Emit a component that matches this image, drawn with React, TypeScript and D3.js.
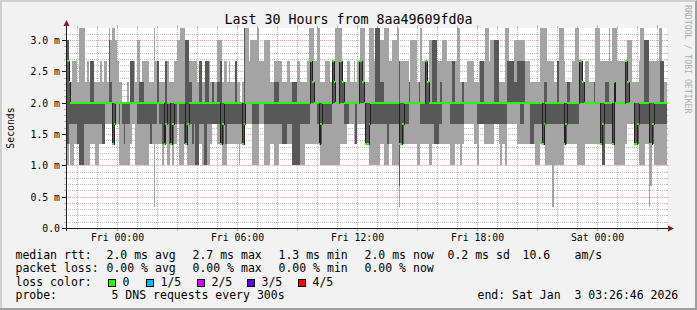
import React from "react";
import * as d3 from "d3";

const WIDTH = 697;
const HEIGHT = 310;

const TITLE = "Last 30 Hours from 8aa49609fd0a";
const Y_AXIS_TITLE = "Seconds";
const SIDE_TEXT = "RRDTOOL / TOBI OETIKER";

const END_TIME = Date.UTC(2026, 0, 3, 3, 26, 46);
const SPAN_HOURS = 30;
const STEP_SECONDS = 300;
const Y_MAX_MS = 3.1915;
const Y_TICKS = [0, 0.5, 1, 1.5, 2, 2.5, 3];
const Y_TICK_LABELS = ["0.0", "0.5 m", "1.0 m", "1.5 m", "2.0 m", "2.5 m", "3.0 m"];

// RTT of the 5 pings per 300 s step (sorted). Each char is a level code: value = parseInt(c,16)/3 ms
const PING5_MAX = [
  "9778887aaa", "a787887777", "87887a9aa9", "8776667688", "8799788887", "77a8877778", "87778899aa", "a998888878", "8778887777",
  "9997887877", "787767aaa8", "9999a88899", "9977888887", "7788777788", "77778aaa88", "aa77788878", "7aaaa77788", "778788aaa7",
  "7aaa8aaa99", "aaa88999a8", "8888879999", "77a8887999", "9988899988", "8888aa7777", "8888777888", "8aa8999997", "777aa88899",
  "9999988877", "7777aaaa88", "88778aaa87", "77788aa887", "7887777aaa", "88888a8aaa", "8888889997", "7778aa9998", "88888aa877",
];
const PING4 = [
  "9766666666", "6666886666", "6666697666", "6666666688", "6667776666", "6666866668", "6666666666", "6997766668", "8668866766",
  "7786666666", "686666a666", "6666666666", "6666777666", "6666677766", "6666668766", "6666666668", "7668876666", "6666688766",
  "66666aaa77", "6666666668", "6666676666", "6766687669", "9966766666", "6886666766", "6666666688", "6666669996", "6666888877",
  "8888866666", "6666667766", "6666866666", "7766666887", "6666667666", "6667766676", "6666687666", "6666669996", "6666668866",
];
const PING3_MEDIAN = [
  "8766666666", "6666666666", "6666666456", "6666666666", "6666666666", "6666666645", "6645666666", "6456666666", "6666666666",
  "6645666666", "6666645666", "6666666666", "6666666666", "6666666666", "6666668766", "6456666668", "7668876666", "6666688764",
  "4566666666", "6666666664", "4566666666", "6666687666", "6666666666", "6666666666", "6666666666", "6666666666", "6666666666",
  "6666666666", "6666645666", "6666666645", "6666666887", "6666666666", "4566666476", "6666687666", "4456666664", "4566666666",
];
const PING2 = [
  "4555554333", "5555555555", "5446666446", "6565455566", "6655555555", "4555655445", "5444556555", "4455545335", "5533555555",
  "5544545555", "5555544666", "6555566655", "5555555554", "4455533333", "5555556666", "5445555556", "6666665556", "6664666664",
  "4455555555", "5545555552", "4455566666", "6655555555", "4445566666", "5555555566", "6666665555", "5555555555", "5555666666",
  "6655666644", "5555544555", "5555555544", "5555555666", "6666666666", "4335555466", "6666666666", "4445555554", "4455555555",
];
const PING1_MIN = [
  "3433444333", "3333444334", "4445555445", "5333333345", "5333333334", "4414444344", "3343445333", "4433333334", "4333334555",
  "4443334444", "4443444555", "5333355533", "3344333444", "4444433333", "3334444444", "4433333333", "3333444455", "5544555554",
  "4333333344", "3334433331", "4444444444", "3344444334", "4444444444", "3334443455", "5555443555", "4444445554", "3443555555",
  "4444444444", "4333444333", "3133333344", "4444443333", "3444444444", "4334444433", "3333345555", "4443333441", "2433333333",
];

const RTT_LABEL = "median rtt:";
const RTT_STATS = ["2.0 ms avg", "2.7 ms max", "1.3 ms min", "2.0 ms now", "0.2 ms sd", "10.6", "am/s"];
const LOSS_LABEL = "packet loss:";
const LOSS_STATS = ["0.00 % avg", "0.00 % max", "0.00 % min", "0.00 % now"];
const LOSS_COLOR_LABEL = "loss color:";
const LOSS_LEVELS = ["0", "1/5", "2/5", "3/5", "4/5"];
const LOSS_LEVEL_COLORS = ["#26ff00", "#00b8ff", "#dd00ff", "#5e00ff", "#ff0000"];
const PROBE_LABEL = "probe:";
const PROBE_TEXT = "5 DNS requests every 300s";
const END_TEXT = "end: Sat Jan\u00a0\u00a03 03:26:46 2026";

const decode = (chunks: string[]) => chunks.join("").split("").map((c) => parseInt(c, 16) / 3);

const PLOT_LEFT = 66;
const PLOT_RIGHT = 666;
const PLOT_TOP = 28;
const PLOT_BOTTOM = 228;
const MONO = "'DejaVu Sans Mono', monospace";
const GRID = "rgba(143,143,143,0.6)";
const MGRID = "rgba(222,79,79,0.5)";
const ARROW = "#801f1f";

export default function App() {
  const start = END_TIME - SPAN_HOURS * 3600 * 1000;
  const x = d3.scaleUtc().domain([new Date(start), new Date(END_TIME)]).range([PLOT_LEFT, PLOT_RIGHT]);
  const y = d3.scaleLinear().domain([0, Y_MAX_MS]).range([PLOT_BOTTOM, PLOT_TOP]);
  const yc = (v: number) => Math.round(y(Math.min(v, Y_MAX_MS)));

  const p1 = decode(PING1_MIN);
  const p2 = decode(PING2);
  const p3 = decode(PING3_MEDIAN);
  const p4 = decode(PING4);
  const p5 = decode(PING5_MAX);

  const steps = p1.map((_, i) => {
    const t0 = start + i * STEP_SECONDS * 1000;
    const t1 = t0 + STEP_SECONDS * 1000;
    const xa = Math.round(x(new Date(t0))) + 1;
    const xb = Math.min(Math.round(x(new Date(t1))) + 1, PLOT_RIGHT + 1);
    return { xa, xb, lo: p1[i], dlo: p2[i], med: p3[i], dhi: p4[i], hi: p5[i] };
  });

  const medPts: [number, number][] = steps.map((s) => [s.xa, yc(s.med) + 0.5]);
  const last = steps[steps.length - 1];
  medPts.push([last.xb, yc(last.med) + 0.5]);
  const medLine = d3.line<[number, number]>().curve(d3.curveStepAfter)(medPts) || "";

  const minorY = d3.range(1, 32).map((k) => k / 10).filter((v) => Math.abs(v * 2 - Math.round(v * 2)) > 1e-6 && v < Y_MAX_MS);
  const hourTicks = d3.utcHour.range(new Date(start), new Date(END_TIME));
  const minorX = hourTicks.filter((d) => d.getUTCHours() % 3 !== 0);
  const majorX = hourTicks.filter((d) => d.getUTCHours() % 3 === 0);
  const labelX = hourTicks.filter((d) => d.getUTCHours() % 6 === 0);
  const fmt = d3.utcFormat("%a %H:%M");
  const px = (d: Date) => Math.round(x(d)) + 0.5;
  const py = (v: number) => Math.round(y(v)) + 0.5;

  const rttX = [107, 193, 279, 365, 448, 523, 575];
  const lossX = [107, 193, 279, 365];
  const boxX = [108, 146, 197, 247, 298];

  return (
    <svg width={WIDTH} height={HEIGHT} style={{ position: "absolute", left: 0, top: 0, display: "block" }}>
      <rect x={0} y={0} width={WIDTH} height={HEIGHT} fill="#f2f2f2" />
      <path d={`M0,0H${WIDTH}V2H2V${HEIGHT}H0Z`} fill="#cfcfcf" />
      <path d={`M${WIDTH},0V${HEIGHT}H0V${HEIGHT - 2}H${WIDTH - 2}V2Z`} fill="#9e9e9e" />
      <rect x={PLOT_LEFT} y={PLOT_TOP} width={PLOT_RIGHT - PLOT_LEFT + 1} height={PLOT_BOTTOM - PLOT_TOP + 1} fill="#ffffff" />

      <text x={WIDTH / 2} y={23.5} textAnchor="middle" fontFamily={MONO} fontSize={13.3} fill="#000">{TITLE}</text>

      {/* grid (under the data) */}
      <g shapeRendering="crispEdges" strokeWidth={1}>
        {minorY.map((v) => (
          <g key={"gy" + v}>
            <line x1={PLOT_LEFT} x2={PLOT_RIGHT} y1={py(v)} y2={py(v)} stroke={GRID} strokeDasharray="1,1" />
            <line x1={PLOT_LEFT - 2} x2={PLOT_LEFT} y1={py(v)} y2={py(v)} stroke={GRID} />
            <line x1={PLOT_RIGHT} x2={PLOT_RIGHT + 2} y1={py(v)} y2={py(v)} stroke={GRID} />
          </g>
        ))}
        {minorX.map((d) => (
          <g key={"gx" + d.getTime()}>
            <line x1={px(d)} x2={px(d)} y1={PLOT_TOP} y2={PLOT_BOTTOM} stroke={GRID} strokeDasharray="1,1" />
            <line x1={px(d)} x2={px(d)} y1={PLOT_BOTTOM} y2={PLOT_BOTTOM + 2} stroke={GRID} />
            <line x1={px(d)} x2={px(d)} y1={PLOT_TOP - 2} y2={PLOT_TOP} stroke={GRID} />
          </g>
        ))}
        {Y_TICKS.filter((v) => v > 0).map((v) => (
          <g key={"my" + v}>
            <line x1={PLOT_LEFT} x2={PLOT_RIGHT} y1={py(v)} y2={py(v)} stroke={MGRID} strokeDasharray="1,1" />
            <line x1={PLOT_RIGHT} x2={PLOT_RIGHT + 2} y1={py(v)} y2={py(v)} stroke={MGRID} />
          </g>
        ))}
        {majorX.map((d) => (
          <g key={"mx" + d.getTime()}>
            <line x1={px(d)} x2={px(d)} y1={PLOT_TOP} y2={PLOT_BOTTOM} stroke={MGRID} strokeDasharray="1,1" />
            <line x1={px(d)} x2={px(d)} y1={PLOT_BOTTOM} y2={PLOT_BOTTOM + 3} stroke={MGRID} />
            <line x1={px(d)} x2={px(d)} y1={PLOT_TOP - 3} y2={PLOT_TOP} stroke={MGRID} />
          </g>
        ))}
      </g>

      {/* smoke */}
      <g shapeRendering="crispEdges">
        {steps.map((s, i) => (
          <rect key={"l" + i} x={s.xa} width={s.xb - s.xa} y={yc(s.hi)} height={yc(s.lo) - yc(s.hi)} fill="#a4a4a4" />
        ))}
        {steps.map((s, i) => (
          <rect key={"d" + i} x={s.xa} width={s.xb - s.xa} y={yc(s.dhi)} height={yc(s.dlo) - yc(s.dhi)} fill="#585858" />
        ))}
      </g>
      <path d={medLine} fill="none" stroke="#202020" strokeWidth={1} shapeRendering="crispEdges" />
      <g shapeRendering="crispEdges">
        {steps.map((s, i) => (
          <rect key={"m" + i} x={s.xa} width={s.xb - s.xa} y={y(s.med) - 1} height={2} fill={LOSS_LEVEL_COLORS[0]} />
        ))}
      </g>

      {/* axes */}
      <g shapeRendering="crispEdges" strokeWidth={1}>
        {Y_TICKS.map((v) => (
          <line key={"ty" + v} x1={PLOT_LEFT - 4} x2={PLOT_LEFT} y1={py(v)} y2={py(v)} stroke="#1f1f1f" />
        ))}
        <line x1={PLOT_LEFT - 4} x2={PLOT_RIGHT + 3} y1={PLOT_BOTTOM + 0.5} y2={PLOT_BOTTOM + 0.5} stroke="#1f1f1f" />
        <line x1={PLOT_LEFT + 0.5} x2={PLOT_LEFT + 0.5} y1={PLOT_BOTTOM + 3} y2={PLOT_TOP - 2} stroke="#1f1f1f" />
      </g>
      <polygon points={`${PLOT_RIGHT + 2},${PLOT_BOTTOM - 2.5} ${PLOT_RIGHT + 8},${PLOT_BOTTOM + 0.5} ${PLOT_RIGHT + 2},${PLOT_BOTTOM + 3.5}`} fill={ARROW} />
      <polygon points={`${PLOT_LEFT - 2.5},${PLOT_TOP - 2} ${PLOT_LEFT + 0.5},${PLOT_TOP - 8} ${PLOT_LEFT + 3.5},${PLOT_TOP - 2}`} fill={ARROW} />

      {Y_TICKS.map((v, i) => (
        <text key={"yl" + v} x={60} y={py(v) + 3.2} textAnchor="end" fontFamily={MONO} fontSize={9.8} fill="#000">{Y_TICK_LABELS[i]}</text>
      ))}
      {labelX.map((d) => (
        <text key={"xl" + d.getTime()} x={px(d)} y={241} textAnchor="middle" fontFamily={MONO} fontSize={9.8} fill="#000">{fmt(d)}</text>
      ))}
      <text transform={`translate(13.5,${(PLOT_TOP + PLOT_BOTTOM) / 2}) rotate(-90)`} textAnchor="middle" fontFamily={MONO} fontSize={9.8} fill="#000">{Y_AXIS_TITLE}</text>
      <text transform="translate(684.5,5) rotate(90)" fontFamily={MONO} fontSize={8.2} fill="#adadad">{SIDE_TEXT}</text>

      <g fontFamily={MONO} fontSize={11.5} fill="#000">
        <text x={15.5} y={258.5}>{RTT_LABEL}</text>
        {RTT_STATS.map((s, i) => (<text key={"r" + i} x={rttX[i] - 0.5} y={258.5}>{s}</text>))}
        <text x={15.5} y={272.2}>{LOSS_LABEL}</text>
        {LOSS_STATS.map((s, i) => (<text key={"p" + i} x={lossX[i] - 0.5} y={272.2}>{s}</text>))}
        <text x={15.5} y={285.8}>{LOSS_COLOR_LABEL}</text>
        {LOSS_LEVELS.map((s, i) => (
          <g key={"c" + i}>
            <rect x={boxX[i] + 0.5} y={279.5} width={7} height={7} fill={LOSS_LEVEL_COLORS[i]} stroke="#000" strokeWidth={1} shapeRendering="crispEdges" />
            <text x={boxX[i] + 14.5} y={285.8}>{s}</text>
          </g>
        ))}
        <text x={15.5} y={299.2}>{PROBE_LABEL}</text>
        <text x={111.5} y={299.2}>{PROBE_TEXT}</text>
        <text x={477.5} y={299.2}>{END_TEXT}</text>
      </g>
    </svg>
  );
}
